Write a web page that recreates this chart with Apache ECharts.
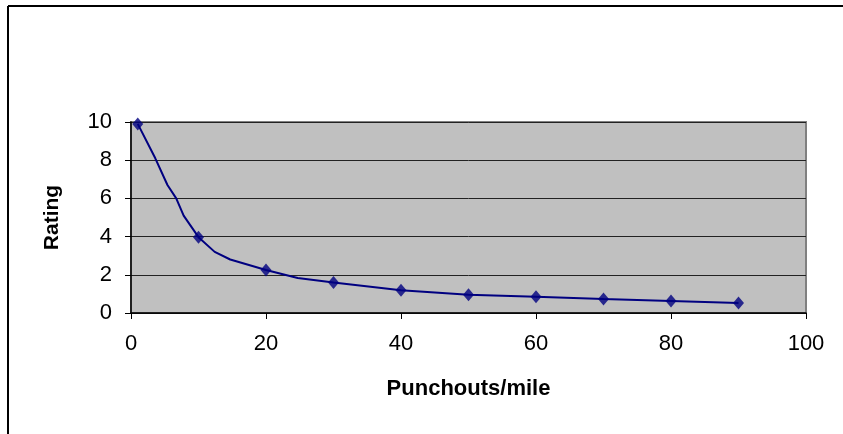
<!DOCTYPE html>
<html>
<head>
<meta charset="utf-8">
<script src="https://cdn.jsdelivr.net/npm/echarts@6/dist/echarts.min.js"></script>
<style>
  html, body { margin: 0; padding: 0; background: #fff; }
  #chart { width: 843px; height: 434px; }
</style>
</head>
<body>
<div id="chart"></div>
<script>
// Rating vs. punchouts per mile
const markerX = [1, 10, 20, 30, 40, 50, 60, 70, 80, 90];
const markerY = [9.9, 3.97, 2.25, 1.6, 1.19, 0.96, 0.85, 0.73, 0.63, 0.52];

// points along the drawn curve (includes the marked points)
const curveX = [1, 3.6, 5.4, 6.7, 7.8, 10, 12.4, 14.7, 20, 24.7, 30, 40, 50, 60, 70, 80, 90];
const curveY = [9.9, 8.1, 6.7, 6.0, 5.1, 3.97, 3.2, 2.8, 2.25, 1.83, 1.6, 1.19, 0.96, 0.85, 0.73, 0.63, 0.52];

const xTicks = [0, 20, 40, 60, 80, 100];
const yTicks = [0, 2, 4, 6, 8, 10];

const xTitle = 'Punchouts/mile';
const yTitle = 'Rating';

const chart = echarts.init(document.getElementById('chart'), null, { renderer: 'canvas' });

const font = '"Liberation Sans", Arial, sans-serif';
const navy = '#000080';

chart.setOption({
  animation: false,
  backgroundColor: '#fff',
  grid: {
    left: 131, top: 122, right: 37, bottom: 121,
    show: true, backgroundColor: '#C0C0C0', borderColor: '#808080', borderWidth: 2
  },
  xAxis: {
    type: 'value',
    min: xTicks[0], max: xTicks[xTicks.length - 1], interval: 20,
    name: xTitle,
    nameLocation: 'middle',
    nameGap: 65,
    nameTextStyle: { fontFamily: font, fontWeight: 'bold', fontSize: 22, color: '#000' },
    axisLine: { lineStyle: { color: '#000', width: 1.5 } },
    axisTick: { show: true, length: 6, lineStyle: { color: '#000' } },
    axisLabel: { fontFamily: font, fontSize: 22, color: '#000', margin: 20 },
    splitLine: { show: false }
  },
  yAxis: {
    type: 'value',
    min: yTicks[0], max: yTicks[yTicks.length - 1], interval: 2,
    name: yTitle,
    nameLocation: 'middle',
    nameGap: 68,
    nameRotate: 90,
    nameTextStyle: { fontFamily: font, fontWeight: 'bold', fontSize: 21, color: '#000' },
    axisLine: { show: true, lineStyle: { color: '#000', width: 1.5 } },
    axisTick: { show: true, length: 6, lineStyle: { color: '#000' } },
    axisLabel: { fontFamily: font, fontSize: 22, color: '#000', margin: 19 },
    splitLine: { show: true, lineStyle: { color: '#222', width: 1 } }
  },
  series: [
    {
      type: 'line',
      data: curveX.map((x, i) => [x, curveY[i]]),
      showSymbol: false,
      symbol: 'none',
      lineStyle: { color: navy, width: 2 },
      z: 3
    },
    {
      type: 'scatter',
      data: markerX.map((x, i) => [x, markerY[i]]),
      symbol: 'diamond',
      symbolSize: [11, 13],
      itemStyle: { color: navy },
      z: 4
    }
  ],
  graphic: [
    { type: 'line', shape: { x1: 8, y1: 6, x2: 843, y2: 6 }, style: { stroke: '#000', lineWidth: 2 } },
    { type: 'line', shape: { x1: 8, y1: 6, x2: 8, y2: 434 }, style: { stroke: '#000', lineWidth: 2 } }
  ]
});
</script>
</body>
</html>
